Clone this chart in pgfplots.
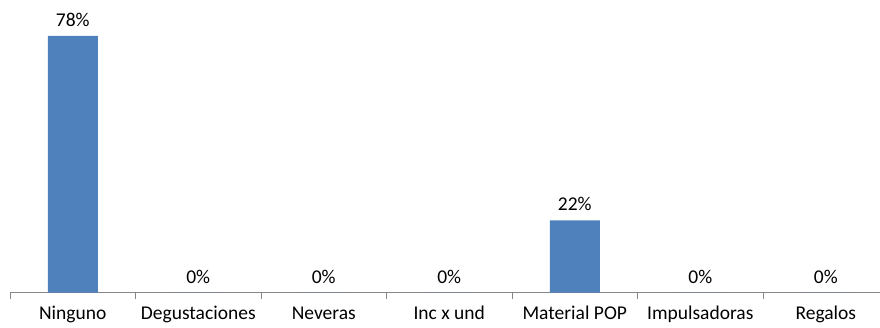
\documentclass[border=0pt]{standalone}
\usepackage{pgfplots}
\pgfplotsset{compat=1.18}
\usepackage{fontspec}
\setmainfont{Carlito}
\definecolor{barblue}{HTML}{4F81BD}
\definecolor{axisgray}{HTML}{868686}
\begin{document}
\begin{tikzpicture}[font=\fontsize{19.5bp}{23bp}\selectfont]
\path[use as bounding box] (0,0) rectangle (880bp,328bp);
\begin{axis}[
  at={(10bp,35.3bp)}, anchor=south west,
  scale only axis, width=870bp, height=292.7bp,
  xmin=-0.5, xmax=6.432, ymin=0, ymax=88.94,
  axis x line*=bottom, hide y axis,
  x axis line style={axisgray, line width=1bp, -},
  xtick={0,...,6},
  xticklabels={Ninguno,Degustaciones,Neveras,Inc x und,Material POP,Impulsadoras,Regalos},
  major x tick style={draw=none},
  minor xtick={-0.5,0.5,...,5.5},
  minor tick length=6bp, tick align=outside,
  minor x tick style={axisgray, line width=1bp},
  xticklabel style={anchor=base, inner sep=0pt, yshift=-23bp},
  ybar, bar width=50bp,
  nodes near coords={\pgfmathprintnumber[assume math mode=true,fixed,precision=0]{\pgfplotspointmeta}\%},
  nodes near coords style={anchor=base, inner sep=0pt, yshift=9.5bp},
]
\addplot[fill=barblue, draw=none] coordinates {(0,78) (1,0) (2,0) (3,0) (4,22) (5,0) (6,0)};
\end{axis}
\end{tikzpicture}
\end{document}
